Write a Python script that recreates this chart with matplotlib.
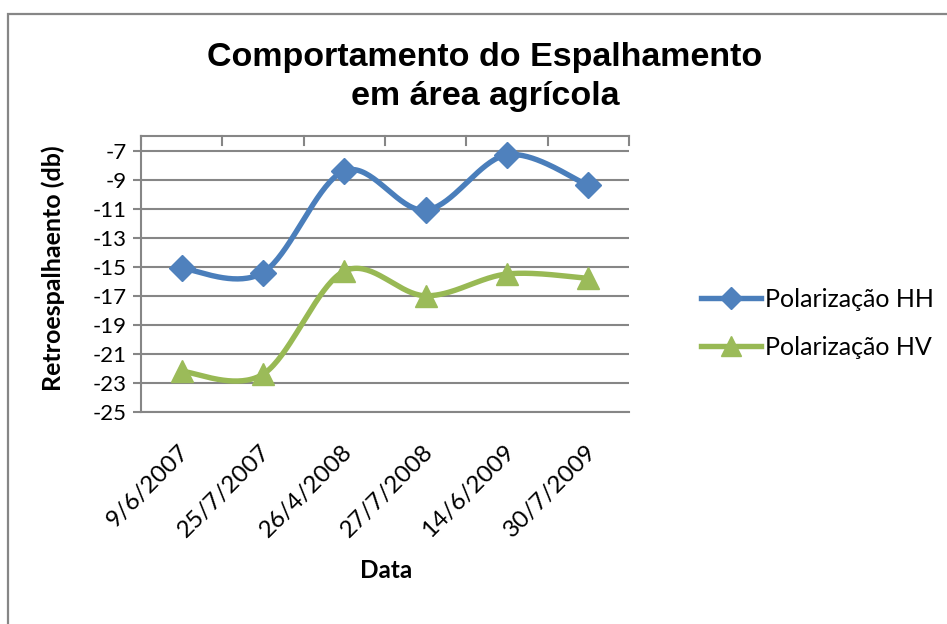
import numpy as np
import matplotlib
matplotlib.use("Agg")
import matplotlib.pyplot as plt
from matplotlib.lines import Line2D
from matplotlib.patches import Rectangle

plt.rcParams["axes.unicode_minus"] = False

# Backscatter measurements per acquisition date
datas = ["9/6/2007", "25/7/2007", "26/4/2008", "27/7/2008", "14/6/2009", "30/7/2009"]
pol_hh = [-15.1, -15.4, -8.4, -11.1, -7.3, -9.4]
pol_hv = [-22.2, -22.4, -15.3, -17.0, -15.5, -15.8]
serie_nomes = ["Polarização HH", "Polarização HV"]
y_ticks = list(range(-25, -6, 2))

AZUL_LINHA = "#4a7ebb"
AZUL_MARC = "#4f81bd"
VERDE_LINHA = "#98b954"
VERDE_MARC = "#9bbb59"
CINZA = "#868686"

W, H = 947, 624
fig = plt.figure(figsize=(W / 100, H / 100), dpi=100)
fig.patch.set_facecolor("white")

# chart area border
fig.patches.append(Rectangle((8 / W, -0.1), 1.2, (1 - 14 / H) + 0.1,
                             transform=fig.transFigure, fill=False,
                             edgecolor=CINZA, linewidth=1.6, zorder=0))


def px(x0, y0, x1, y1):
    return [x0 / W, 1 - y1 / H, (x1 - x0) / W, (y1 - y0) / H]


ax = fig.add_axes(px(141, 136, 629, 412))
n = len(datas)
ax.set_xlim(-0.5, n - 0.5)
ax.set_ylim(-25, -6)


def suaviza(ys, pontos=40):
    """Catmull-Rom style Bezier smoothing through the points."""
    xs = np.arange(len(ys), dtype=float)
    P = np.column_stack([xs, np.asarray(ys, dtype=float)])
    ext = np.vstack([P[0], P, P[-1]])
    out = []
    for i in range(len(P) - 1):
        p0, p1, p2, p3 = ext[i], ext[i + 1], ext[i + 2], ext[i + 3]
        c1 = p1 + (p2 - p0) / 6.0
        c2 = p2 - (p3 - p1) / 6.0
        t = np.linspace(0, 1, pontos)[:, None]
        seg = ((1 - t) ** 3) * p1 + 3 * ((1 - t) ** 2) * t * c1 + 3 * (1 - t) * t ** 2 * c2 + t ** 3 * p2
        out.append(seg if i == 0 else seg[1:])
    seg = np.vstack(out)
    return seg[:, 0], seg[:, 1]


x = np.arange(n)
for vals, cl, cm, mk, ms in [(pol_hh, AZUL_LINHA, AZUL_MARC, "D", 13),
                             (pol_hv, VERDE_LINHA, VERDE_MARC, "^", 16)]:
    sx, sy = suaviza(vals)
    ax.plot(sx, sy, color=cl, linewidth=3.9, solid_capstyle="round", zorder=3)
    ax.plot(x, vals, linestyle="none", marker=mk, markersize=ms,
            markerfacecolor=cm, markeredgecolor=cm, zorder=4)

# grid and axes
ax.set_yticks(y_ticks)
ax.yaxis.grid(True, color=CINZA, linewidth=1.5)
ax.set_axisbelow(True)
ax.tick_params(axis="y", direction="out", length=6, width=1.5, color=CINZA,
               labelsize=16, pad=4)
for lab in ax.get_yticklabels():
    lab.set_fontfamily("Lato")
ax.set_xticks([])
ax.spines["right"].set_visible(False)
for s in ["left", "top", "bottom"]:
    ax.spines[s].set_color(CINZA)
    ax.spines[s].set_linewidth(1.5)

# category separators hanging from the top edge
for b in np.arange(-0.5, n, 1.0):
    ax.plot([b, b], [-6, -6.65], color=CINZA, linewidth=1.5, clip_on=False, zorder=2)

# rotated category labels
for i, d in enumerate(datas):
    ax.annotate(d, xy=(i, 0), xycoords=("data", "axes fraction"),
                xytext=(3, -26), textcoords="offset points",
                rotation=45, ha="right", va="center", rotation_mode="anchor",
                fontsize=17.5, family="Lato")

fig.text(386 / W, 1 - 571 / H, "Data", ha="center", va="center",
         fontsize=17.5, fontweight="bold", family="Lato")
fig.text(53 / W, 1 - 268 / H, "Retroespalhaento (db)", ha="center", va="center",
         rotation=90, fontsize=18, fontweight="bold", family="Lato")

fig.text(485 / W, 1 - 42 / H, "Comportamento do Espalhamento\nem área agrícola",
         ha="center", va="top", fontsize=24.5, fontweight="bold",
         family="Liberation Sans", linespacing=1.33)

handles = [Line2D([], [], color=AZUL_LINHA, linewidth=3.9, marker="D",
                  markersize=11, markerfacecolor=AZUL_MARC, markeredgecolor=AZUL_MARC),
           Line2D([], [], color=VERDE_LINHA, linewidth=3.9, marker="^",
                  markersize=14, markerfacecolor=VERDE_MARC, markeredgecolor=VERDE_MARC)]
fig.legend(handles, serie_nomes, loc="center left",
           bbox_to_anchor=(691 / W, 1 - 323 / H), frameon=False,
           prop={"family": "Lato", "size": 18}, handlelength=2.4,
           handletextpad=0.15, labelspacing=1.0, borderaxespad=0)

fig.savefig("out.png", dpi=100, facecolor="white")
